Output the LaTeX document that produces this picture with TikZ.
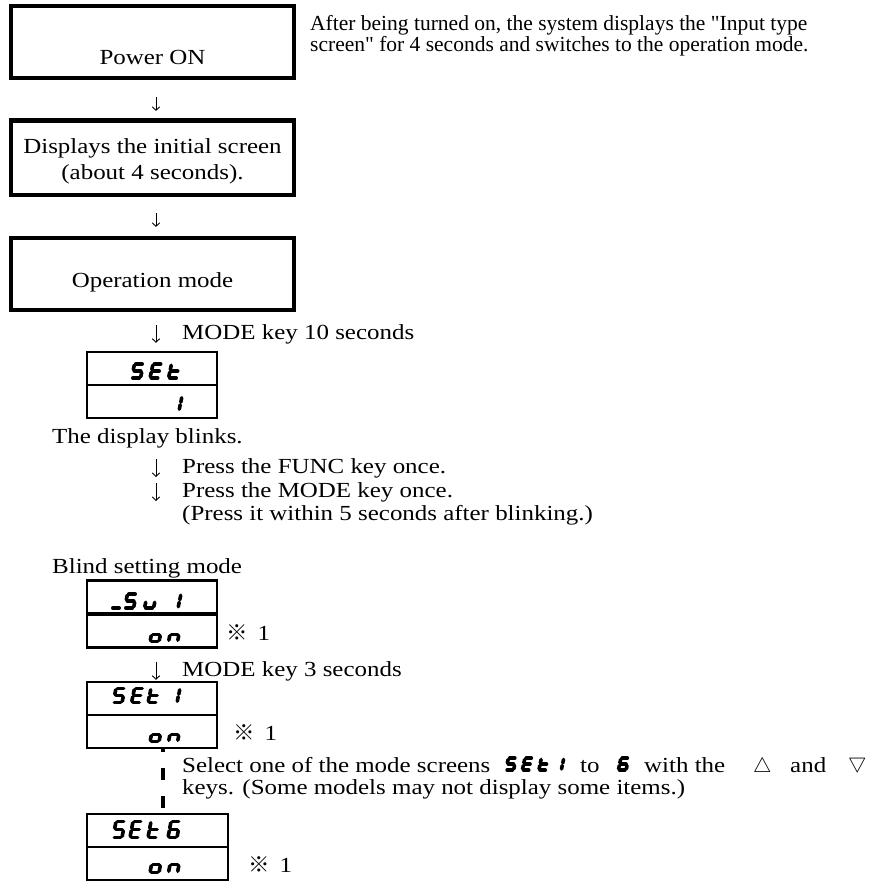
\documentclass[tikz,border=0pt]{standalone}
\usepackage{fontspec}
\setmainfont{Liberation Serif}[FakeStretch=1.16]
\newfontfamily\notefont{Liberation Serif}
\newfontfamily\cjkfont{Noto Sans CJK JP}
\usetikzlibrary{arrows.meta,calc}

% Seven-segment display pieces (local units: 9 wide, 14 high, slanted by 3)
\newcommand\segA{\draw[segline] (3,0) -- (12,0);}
\newcommand\segB{\draw[segline] (12,0) -- (10.5,7);}
\newcommand\segC{\draw[segline] (10.5,7) -- (9,14);}
\newcommand\segD{\draw[segline] (0,14) -- (9,14);}
\newcommand\segE{\draw[segline] (1.5,7) -- (0,14);}
\newcommand\segF{\draw[segline] (3,0) -- (1.5,7);}
\newcommand\segG{\draw[segline] (1.5,7) -- (10.5,7);}
% #1 position of the top-left corner, #2 extra transform, #3 list of lit segments
\newcommand\segglyph[3]{%
  \begin{scope}[shift={#1},#2]
    \foreach \sg in #3 {\csname seg\sg\endcsname}
  \end{scope}}
\newcommand\lcdS{A,F,G,C,D}
\newcommand\lcdE{A,F,G,E,D}
\newcommand\lcdT{F,G,E,D}
\newcommand\lcdOne{B,C}
\newcommand\lcdSix{A,F,G,E,D,C}
\newcommand\lcdO{G,C,D,E}
\newcommand\lcdN{E,G,C}
\newcommand\lcdU{E,D,C}
\newcommand\lcdBar{D}

\begin{document}
\begin{tikzpicture}[x=1pt,y=-1pt,
  mainbox/.style={draw, line width=4.2pt, minimum width=283pt, inner sep=0pt},
  cell/.style={draw, line width=2.4pt, inner sep=0pt, minimum height=33pt},
  txt/.style={inner sep=0pt, font=\fontsize{21.5}{26}\selectfont},
  paratxt/.style={inner sep=0pt, font=\notefont\fontsize{21.5}{21}\selectfont},
  down/.style={line width=0.9pt, -{Straight Barb[length=3.5pt,width=7.5pt]}},
  segline/.style={line width=3.6pt, line cap=round, shorten <=1.3pt, shorten >=1.3pt},
  dashline/.style={line width=3.5pt, dash pattern=on 12pt off 16pt, dash phase=9pt},
  inl/.style={scale=0.86},
]
\useasboundingbox (0,0) rectangle (881,881);
\fill[white] (0,0) rectangle (881,881);

\coordinate (axis) at (156,0);
\coordinate (dashx) at (163,0);

% ---- start-up flow ----
\node[mainbox, minimum height=72pt] (power) at (152.5,42) {};
\node[mainbox, minimum height=74.5pt] (initial) at (152.5,157.75) {};
\node[mainbox, minimum height=72pt] (opmode) at (152.5,274) {};

\node[txt, anchor=base] (powertxt) at (152.5,64) {Power ON};
\node[txt, anchor=base] (initial1) at (152.5,153) {Displays the initial screen};
\node[txt, anchor=base] (initial2) at (152.5,179) {(about 4 seconds).};
\node[txt, anchor=base] (optxt) at (152.5,287) {Operation mode};

\node[paratxt, anchor=base west] (para1) at (310,30) {After being turned on, the system displays the "Input type};
\node[paratxt, anchor=base west] (para2) at (310,51) {screen" for 4 seconds and switches to the operation mode.};

\draw[down, shorten <=17pt, shorten >=7.5pt] (power.south -| axis) -- (initial.north -| axis);
\draw[down, shorten <=16pt, shorten >=9pt] (initial.south -| axis) -- (opmode.north -| axis);

% ---- SEt / 1 ----
\node[cell, minimum width=130pt] (setT) at (152,368.5) {};
\node[cell, minimum width=130pt] (setB) at (152,401.5) {};
\draw[down, shorten <=13pt, shorten >=8pt] (opmode.south -| axis) -- (setT.north -| axis);
\node[txt, anchor=base west] (mode10) at (182,339) {MODE key 10 seconds};

\segglyph{(131.5,364)}{}{\lcdS}
\segglyph{(150,364)}{}{\lcdE}
\segglyph{(168.5,364)}{}{\lcdT}
\segglyph{(170,396.5)}{}{\lcdOne}

\node[txt, anchor=base west] (blink) at (52,443) {The display blinks.};
\node[txt, anchor=base west] (func) at (182,473) {Press the FUNC key once.};
\node[txt, anchor=base west] (modeonce) at (182,497) {Press the MODE key once.};
\node[txt, anchor=base west] (within) at (182,520) {(Press it within 5 seconds after blinking.)};
\draw[down] ($(func.base west -| axis)+(0,-14)$) -- ($(func.base west -| axis)+(0,4)$);
\draw[down] ($(modeonce.base west -| axis)+(0,-14)$) -- ($(modeonce.base west -| axis)+(0,4)$);

\node[txt, anchor=base west] (blind) at (52,573) {Blind setting mode};

% ---- _Su1 / on ----
\node[cell, minimum width=130pt] (suT) at (152,597) {};
\node[cell, minimum width=130pt] (suB) at (152,631) {};
\segglyph{(111.5,594)}{}{\lcdBar}
\segglyph{(124.5,594)}{}{\lcdS}
\segglyph{(144.5,594)}{}{\lcdU}
\segglyph{(169,594)}{}{\lcdOne}
\segglyph{(150,627.5)}{}{\lcdO}
\segglyph{(168.5,627.5)}{}{\lcdN}
\node[txt, anchor=base west] (sunote) at (226,640) {{\cjkfont ※}\hspace{10pt}1};

\node[cell, minimum width=130pt] (set1T) at (152,698.5) {};
\node[cell, minimum width=130pt] (set1B) at (152,731.5) {};
\draw[down, shorten <=13pt, shorten >=1pt] (suB.south -| axis) -- (set1T.north -| axis);
\node[txt, anchor=base west] (mode3) at (182,676) {MODE key 3 seconds};

% ---- SEt1 / on ----
\segglyph{(113,688.5)}{}{\lcdS}
\segglyph{(131.5,688.5)}{}{\lcdE}
\segglyph{(148,688.5)}{}{\lcdT}
\segglyph{(168,688.5)}{}{\lcdOne}
\segglyph{(150,727.5)}{}{\lcdO}
\segglyph{(168.5,727.5)}{}{\lcdN}
\node[txt, anchor=base west] (set1note) at (233,740) {{\cjkfont ※}\hspace{10pt}1};

% ---- selection note ----
\node[txt, anchor=base west] (sel) at (182,772) {Select one of the mode screens};
\segglyph{(505.8,758.2)}{inl}{\lcdS}
\segglyph{(522.3,758.2)}{inl}{\lcdE}
\segglyph{(538.8,758.2)}{inl}{\lcdT}
\segglyph{(553.5,758.2)}{inl}{\lcdOne}
\node[txt, anchor=base west] (selto) at (580,772) {to};
\segglyph{(618.3,758.2)}{inl}{\lcdSix}
\node[txt, anchor=base west] (selwith) at (644,772) {with the};
\node[txt, anchor=base west] (selup) at (753,772) {$\bigtriangleup$};
\node[txt, anchor=base west] (seland) at (790,772) {and};
\node[txt, anchor=base west] (seldown) at (848,772) {\raisebox{4pt}{$\bigtriangledown$}};
\node[txt, anchor=base west] (keys) at (182,794) {keys. (Some models may not display some items.)};

% ---- SEt6 / on ----
\node[cell, minimum width=141pt] (set6T) at (157.5,830.5) {};
\node[cell, minimum width=141pt] (set6B) at (157.5,863.5) {};
\draw[dashline] (set1B.south -| dashx) -- (set6T.north -| dashx);
\segglyph{(113,821.5)}{yscale=1.143}{\lcdS}
\segglyph{(130,821.5)}{yscale=1.143}{\lcdE}
\segglyph{(148,821.5)}{yscale=1.143}{\lcdT}
\segglyph{(168,821.5)}{yscale=1.143}{\lcdSix}
\segglyph{(150,856.5)}{yscale=1.143}{\lcdO}
\segglyph{(168.5,856.5)}{yscale=1.143}{\lcdN}
\node[txt, anchor=base west] (set6note) at (248,872) {{\cjkfont ※}\hspace{10pt}1};
\end{tikzpicture}
\end{document}
